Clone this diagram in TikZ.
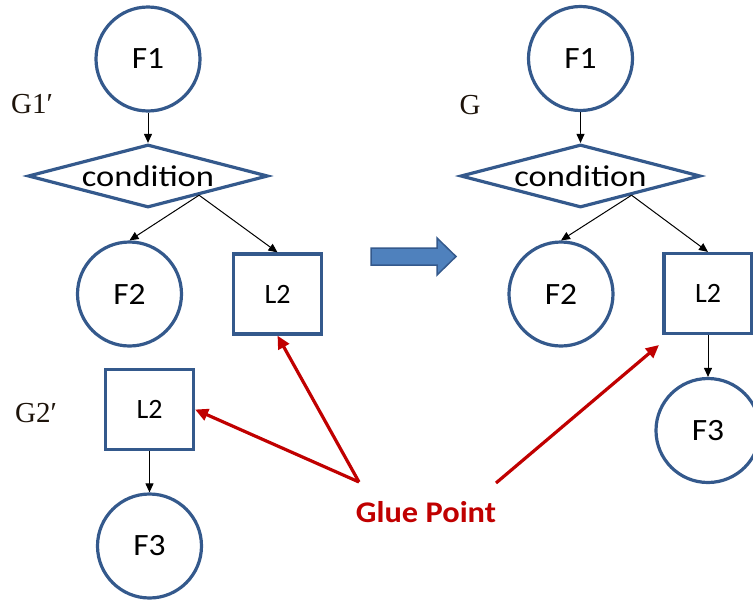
\documentclass[tikz,border=0pt]{standalone}
\usepackage{fontspec}
\usetikzlibrary{shapes.geometric,arrows.meta,calc}
\newfontfamily\calw[FakeStretch=1.15]{Carlito}
\newfontfamily\calf[FakeStretch=1.08]{Carlito}
\newfontfamily\caln{Carlito}
\newfontfamily\calb[FakeStretch=1.08]{Carlito}
\newfontfamily\labfont{Liberation Serif}
\definecolor{nodeblue}{HTML}{34598C}
\definecolor{arrowfill}{HTML}{4F81BD}
\definecolor{gluered}{HTML}{C00000}
\tikzset{
  fnode/.style={circle, draw=nodeblue, line width=3.2pt, minimum size=104pt, inner sep=0pt,
    font=\calf\fontsize{31}{31}\selectfont},
  lbox/.style={rectangle, draw=nodeblue, line width=3.2pt, minimum width=88pt, minimum height=80pt, inner sep=0pt,
    font=\caln\fontsize{28}{28}\selectfont},
  cond/.style={diamond, draw=nodeblue, line width=3.2pt, minimum width=240pt, minimum height=63pt, inner sep=0pt,
    shape aspect=3.8, font=\calw\fontsize{30}{30}\selectfont},
  flow/.style={draw=black, line width=1pt, -{Triangle[length=9pt,width=8pt]}},
  glue/.style={draw=gluered, line width=3.2pt, -{Triangle[length=13pt,width=12pt]}},
  glabel/.style={font=\labfont\fontsize{29}{29}\selectfont, text=black!85!brown, inner sep=0pt}
}
\begin{document}
\begin{tikzpicture}[x=1pt,y=-1pt]
\useasboundingbox (0,0) rectangle (753,600);
% left graph G1'
\node[fnode] (f1a) at (148,59) {F1};
\node[cond] (ca) at (148,176) {condition};
\node[fnode] (f2a) at (129.5,294) {F2};
\node[lbox] (l2a) at (277.5,294) {L2};
\node[glabel] (g1) at (32,104) {G1′};
\coordinate (da) at ($(ca.south)!0.42!(ca.east)$);
\draw[flow] (f1a) -- (ca);
\draw[flow] (da) -- (f2a.north);
\draw[flow] (da) -- (l2a.north);
% left graph G2'
\node[lbox] (l2b) at (149.5,409.5) {L2};
\node[fnode] (f3b) at (149.5,546) {F3};
\node[glabel] (g2) at (36,413) {G2′};
\draw[flow] (l2b) -- (f3b);
% right graph G
\node[fnode] (f1r) at (580.5,58.5) {F1};
\node[cond] (cr) at (580.5,176) {condition};
\node[fnode] (f2r) at (561,294) {F2};
\node[lbox] (l2r) at (708,293.5) {L2};
\node[fnode] (f3r) at (708,430.5) {F3};
\node[glabel] (gg) at (470,105) {G};
\coordinate (dr) at ($(cr.south)!0.42!(cr.east)$);
\draw[flow] (f1r) -- (cr);
\draw[flow] (dr) -- (f2r.north);
\draw[flow] (dr) -- (l2r.north);
\draw[flow] (l2r) -- (f3r);
% block arrow
\draw[fill=arrowfill, draw=nodeblue, line width=1.5pt, line join=miter]
  (371,248) -- (437,248) -- (437,238) -- (456,256.5) -- (437,275) -- (437,265) -- (371,265) -- cycle;
% glue point
\node[font=\calb\bfseries\fontsize{30}{30}\selectfont, text=gluered, inner sep=0pt] (gp) at (426,512) {Glue Point};
\coordinate (gpa) at (359,482);
\coordinate (gpb) at (496,483);
\coordinate (gpt) at (659,345);
\draw[glue] (gpa) -- (l2a.south);
\draw[glue] (gpa) -- (l2b.east);
\draw[glue] (gpb) -- (gpt);
\end{tikzpicture}
\end{document}
